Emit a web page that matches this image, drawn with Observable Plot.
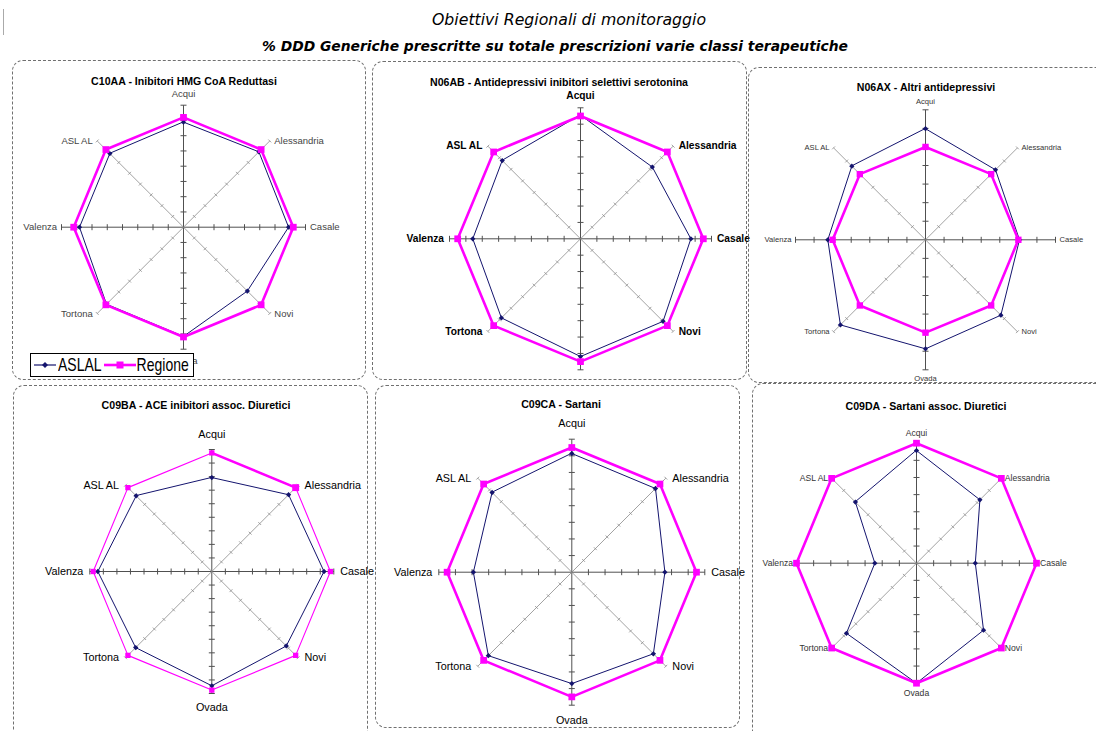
<!DOCTYPE html>
<html><head><meta charset="utf-8">
<script src="https://cdn.jsdelivr.net/npm/d3@7"></script>
<script src="https://cdn.jsdelivr.net/npm/@observablehq/plot@0.6"></script>
<style>
body{margin:0;background:#fff;width:1096px;height:731px;overflow:hidden;position:relative;font-family:"Liberation Sans",Arial,sans-serif;}
.panel{position:absolute;border:1px dashed #707070;border-radius:11px;box-sizing:border-box;}
.panel svg.pl{position:absolute;left:-1px;top:-1px;overflow:visible;background:transparent;}
.ptitle{position:absolute;font-weight:bold;font-size:10.6px;white-space:nowrap;transform:translate(-50%,-50%);color:#000;}
.legend{position:absolute;border:1px solid #000;background:#fff;box-sizing:border-box;display:flex;align-items:center;font-size:14px;line-height:1;}
.legend span{display:inline-block;transform:scaleY(1.3);}
</style></head><body>
<svg id="head" width="1096" height="60" style="position:absolute;left:0;top:0">
  <line x1="3.5" y1="9" x2="3.5" y2="35" stroke="#aaa" stroke-width="1"/>
  <text x="569" y="25" text-anchor="middle" font-size="15" font-style="italic" font-family="'Comic Sans MS','DejaVu Sans Condensed','DejaVu Sans',sans-serif" textLength="274" lengthAdjust="spacingAndGlyphs">Obiettivi Regionali di monitoraggio</text>
  <text x="555" y="51" text-anchor="middle" font-size="14" font-style="italic" font-weight="bold" font-family="'Comic Sans MS','DejaVu Sans Condensed','DejaVu Sans',sans-serif" textLength="586" lengthAdjust="spacingAndGlyphs">% DDD Generiche prescritte su totale prescrizioni varie classi terapeutiche</text>
</svg>
<script>
// ---------- DATA ----------
const categories = ["Acqui", "Alessandria", "Casale", "Novi", "Ovada", "Tortona", "Valenza", "ASL AL"];
const panelTitles = [
  "C10AA - Inibitori HMG CoA Reduttasi",
  "N06AB - Antidepressivi inibitori selettivi serotonina",
  "N06AX - Altri antidepressivi",
  "C09BA - ACE inibitori assoc. Diuretici",
  "C09CA - Sartani",
  "C09DA -  Sartani assoc. Diuretici"
];
const seriesNames = ["ASLAL", "Regione"];
const aslal_C10AA   = [68.9, 69.9, 68.9, 59.2, 71.6, 71.4, 68.2, 68.3];
const regione_C10AA = [72, 72, 72, 72, 72, 72, 72, 72];
const aslal_N06AB   = [75.5, 62.0, 67.4, 71.3, 71.9, 68.3, 65.8, 67.6];
const regione_N06AB = [75, 75, 75, 75, 75, 75, 75, 75];
const aslal_N06AX   = [59.8, 53.3, 50.6, 57.4, 58.7, 64.8, 52.6, 56.1];
const regione_N06AX = [50, 50, 50, 50, 50, 50, 50, 50];
const aslal_C09BA   = [69.3, 80.1, 82.8, 77.7, 84.3, 79.4, 84.1, 78.9];
const regione_C09BA = [87.5, 87.5, 87.5, 87.5, 87.5, 87.5, 87.5, 87.5];
const aslal_C09CA   = [71.4, 71.2, 56.0, 69.4, 67.0, 71.0, 59.2, 67.8];
const regione_C09CA = [75, 75, 75, 75, 75, 75, 75, 75];
const aslal_C09DA   = [65.7, 52.3, 34.3, 55.3, 70.0, 57.8, 24.3, 50.4];
const regione_C09DA = [70, 70, 70, 70, 70, 70, 70, 70];
const axisMax  = [80, 80, 70, 90, 80, 70];
const axisStep = [10, 10, 10, 10, 10, 10];

const series = [
  [aslal_C10AA, regione_C10AA], [aslal_N06AB, regione_N06AB], [aslal_N06AX, regione_N06AX],
  [aslal_C09BA, regione_C09BA], [aslal_C09CA, regione_C09CA], [aslal_C09DA, regione_C09DA]
];

// ---------- LAYOUT / STYLE ----------
const NAVY = "#14146e", MAG = "#ff00ff";
const layout = [
  {left:12,  top:60,  w:354, h:320, cx:171,   cy:166.7, r:122, tx:171, ty:20, fs:9.5,  fc:"#444", dyV:11.7, dxH:4.5, regW:2.6, sq:3.8, hide:[]},
  {left:372, top:61,  w:375, h:319, cx:208,   cy:177.3, r:131, tx:186, ty:20, fs:10.2, fc:"#000", dyV:11.6, dxH:5.5, regW:2.6, sq:3.8, hide:["Ovada"], bold:true},
  {left:748, top:67,  w:360, h:316, cx:177,   cy:172.3, r:130, tx:177, ty:19, fs:7.6,  fc:"#333", dyV:8.5,  dxH:4,   regW:2.6, sq:3.6, hide:[]},
  {left:13,  top:385, w:355, h:360, cx:198.3, cy:186,   r:122, tx:182, ty:19, fs:10.8, fc:"#000", dyV:14.5, dxH:6.5, regW:1.1, sq:3.0, hide:[], thick:true},
  {left:375, top:385, w:365, h:343, cx:196.3, cy:186.7, r:133, tx:185, ty:18, fs:10.8, fc:"#000", dyV:15.3, dxH:6.5, regW:2.6, sq:3.8, hide:[]},
  {left:752, top:383, w:360, h:360, cx:164,   cy:179.7, r:120, tx:173, ty:22, fs:8.6,  fc:"#333", dyV:10,   dxH:3.5, regW:2.6, sq:3.8, hide:[]}
];

function radar(i) {
  const L = layout[i], max = axisMax[i], step = axisStep[i];
  const n = categories.length;
  const ang = k => k * 2 * Math.PI / n;
  const pt = (v, k) => ({x: v * Math.sin(ang(k)), y: v * Math.cos(ang(k))});
  const [aVals, rVals] = series[i];
  const aslal = aVals.map((v, k) => ({...pt(v, k), cat: categories[k]}));
  const reg = rVals.map((v, k) => ({...pt(v, k), cat: categories[k]}));
  const spokes = categories.map((c, k) => ({...pt(max, k), main: k % 2 === 0}));
  const ticks = [];
  categories.forEach((c, k) => {
    const s = Math.sin(ang(k)), co = Math.cos(ang(k)), main = k % 2 === 0;
    const tl = (main ? 3 : 2) * max / L.r;
    for (let v = step; v <= max + 1e-9; v += step) {
      ticks.push({x1: v*s + tl*co, y1: v*co - tl*s, x2: v*s - tl*co, y2: v*co + tl*s, main});
    }
  });
  const labels = categories.map((c, k) => ({c, ...pt(max, k), s: Math.sin(ang(k)), co: Math.cos(ang(k))}))
    .filter(d => !L.hide.includes(d.c));
  const txt = {text: "c", fontSize: L.fs, fill: L.fc, fontWeight: L.bold ? "bold" : "normal", fontFamily: "Liberation Sans, Arial, sans-serif"};
  const marks = [
    Plot.link(spokes.filter(d => d.main), {x1: 0, y1: 0, x2: "x", y2: "y", stroke: "#505050", strokeWidth: 1}),
    Plot.link(spokes.filter(d => !d.main), {x1: 0, y1: 0, x2: "x", y2: "y", stroke: "#8a8a8a", strokeWidth: 0.8}),
    Plot.link(ticks.filter(d => d.main), {x1: "x1", y1: "y1", x2: "x2", y2: "y2", stroke: "#505050", strokeWidth: 1}),
    Plot.link(ticks.filter(d => !d.main), {x1: "x1", y1: "y1", x2: "x2", y2: "y2", stroke: "#8a8a8a", strokeWidth: 0.8}),
    Plot.line(aslal, {x: "x", y: "y", curve: "linear-closed", stroke: NAVY, strokeWidth: 1}),
    Plot.dot(aslal, {x: "x", y: "y", symbol: "square", rotate: 45, r: 2.1, fill: NAVY, stroke: null}),
    Plot.line(reg, {x: "x", y: "y", curve: "linear-closed", stroke: MAG, strokeWidth: L.regW}),
  ];
  if (L.thick) marks.push(Plot.line(reg.slice(0, 2), {x: "x", y: "y", stroke: MAG, strokeWidth: 2.6}));
  marks.push(
    Plot.dot(reg, {x: "x", y: "y", symbol: "square", r: (d) => (L.thick && d.cat === "Alessandria") ? 3.9 : L.sq, fill: MAG, stroke: null}),
    Plot.text(labels.filter(d => d.co > 0.9), {...txt, x: "x", y: "y", textAnchor: "middle", lineAnchor: "middle", dy: -L.dyV}),
    Plot.text(labels.filter(d => d.co < -0.9), {...txt, x: "x", y: "y", textAnchor: "middle", lineAnchor: "middle", dy: L.dyV}),
    Plot.text(labels.filter(d => d.s > 0.1), {...txt, x: "x", y: "y", textAnchor: "start", lineAnchor: "middle", dx: L.dxH}),
    Plot.text(labels.filter(d => d.s < -0.1), {...txt, x: "x", y: "y", textAnchor: "end", lineAnchor: "middle", dx: -L.dxH})
  );
  const svg = Plot.plot({
    width: L.w, height: L.h, margin: 0,
    x: {domain: [-max, max], range: [L.cx - L.r, L.cx + L.r], axis: null},
    y: {domain: [-max, max], range: [L.cy + L.r, L.cy - L.r], axis: null},
    r: {type: "identity"},
    style: {background: "transparent", overflow: "visible"},
    marks
  });
  svg.classList.add("pl");
  svg.style.maxWidth = "none";
  const div = document.createElement("div");
  div.className = "panel";
  Object.assign(div.style, {left: L.left + "px", top: L.top + "px", width: L.w + "px", height: L.h + "px"});
  div.appendChild(svg);
  const t = document.createElement("div");
  t.className = "ptitle";
  t.textContent = panelTitles[i];
  Object.assign(t.style, {left: L.tx + "px", top: L.ty + "px"});
  div.appendChild(t);
  return div;
}

const panels = layout.map((L, i) => radar(i));
panels.forEach(p => document.body.appendChild(p));

// legend in first panel
const lg = document.createElement("div");
lg.className = "legend";
Object.assign(lg.style, {left: "17px", top: "292px", width: "164px", height: "24px"});
lg.innerHTML =
  `<svg width="24" height="14" style="margin-left:2px"><line x1="1" y1="7" x2="23" y2="7" stroke="${NAVY}" stroke-width="1.2"/><path d="M12 4 L15 7 L12 10 L9 7 Z" fill="${NAVY}"/></svg>` +
  `<span style="margin-left:1px">${seriesNames[0]}</span>` +
  `<svg width="34" height="14" style="margin-left:1px"><line x1="1" y1="7" x2="33" y2="7" stroke="${MAG}" stroke-width="2.6"/><rect x="13.5" y="3.5" width="7" height="7" fill="${MAG}"/></svg>` +
  `<span>${seriesNames[1]}</span>`;
panels[0].appendChild(lg);
</script>
</body></html>
